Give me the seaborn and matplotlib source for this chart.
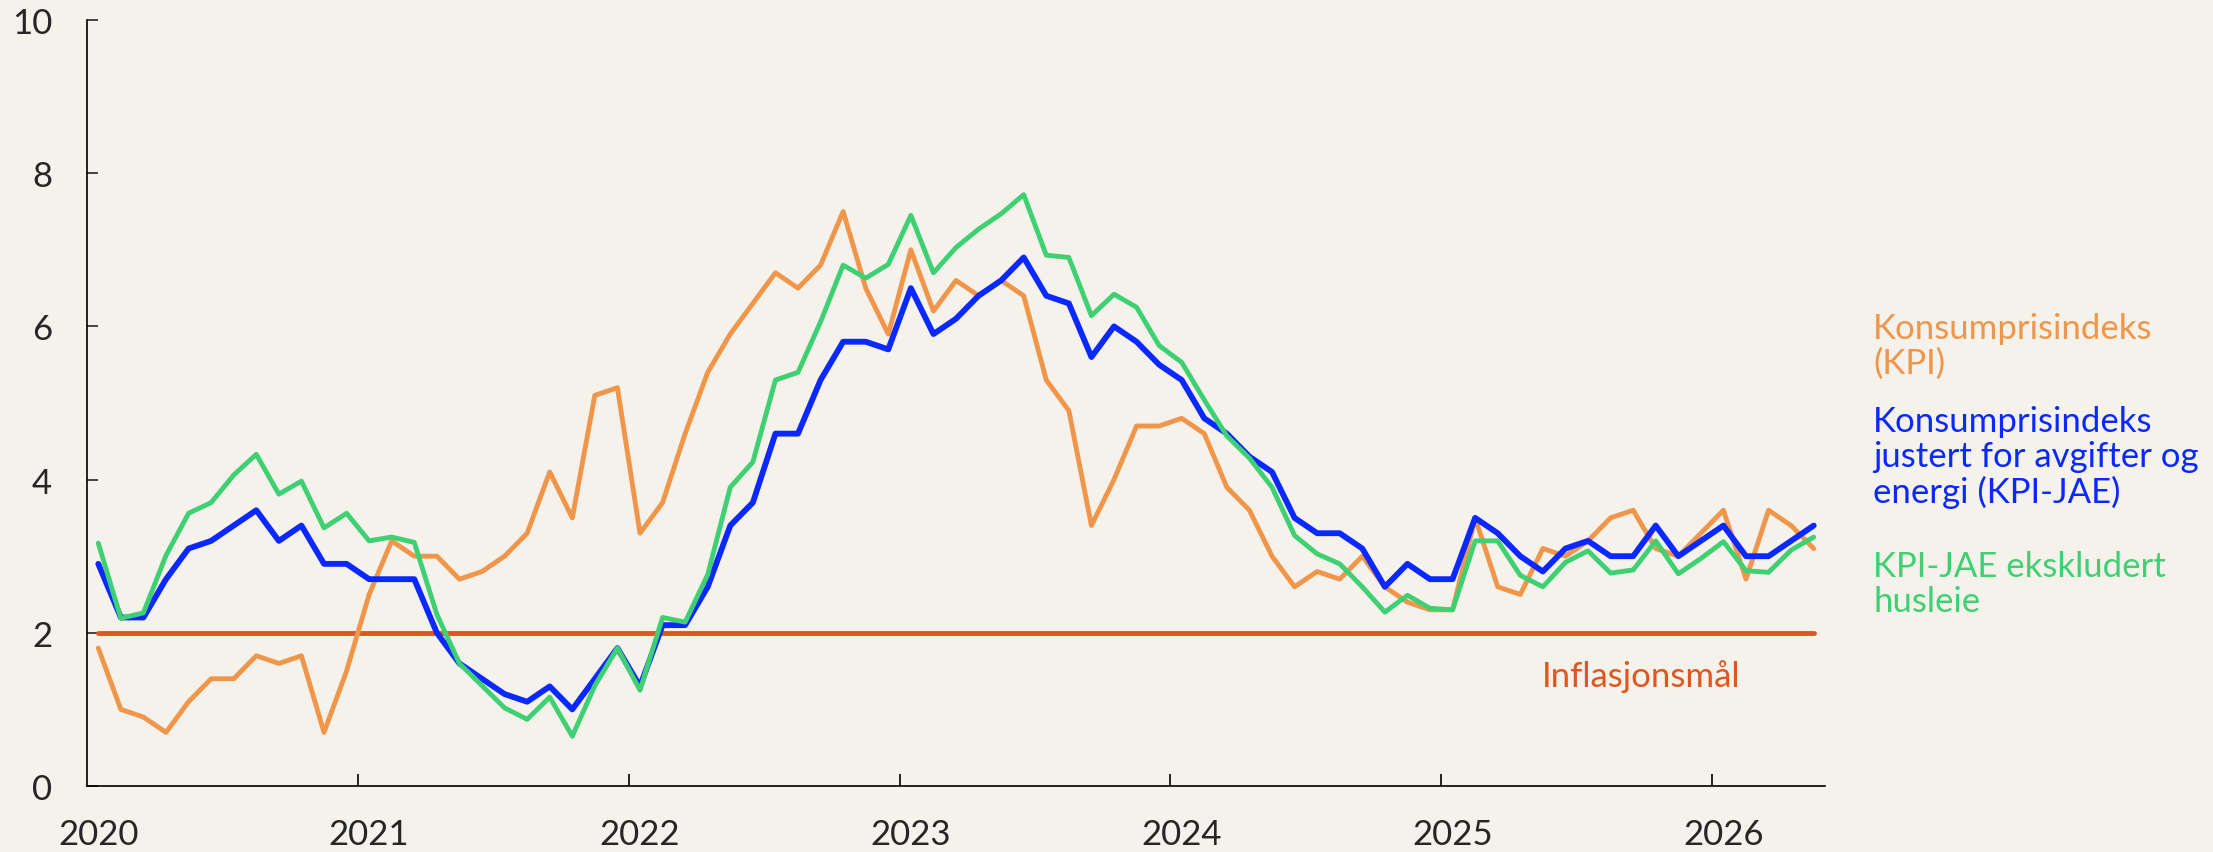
import numpy as np
import pandas as pd
import seaborn as sns
import matplotlib.pyplot as plt

# Monthly 12-month change (%), Jan 2020 - May 2026
years = ["2020", "2021", "2022", "2023", "2024", "2025", "2026"]

kpi = [
    1.8, 1.0, 0.9, 0.7, 1.1, 1.4, 1.4, 1.7, 1.6, 1.7, 0.7, 1.5,   # 2020
    2.5, 3.2, 3.0, 3.0, 2.7, 2.8, 3.0, 3.3, 4.1, 3.5, 5.1, 5.2,   # 2021
    3.3, 3.7, 4.6, 5.4, 5.9, 6.3, 6.7, 6.5, 6.8, 7.5, 6.5, 5.9,   # 2022
    7.0, 6.2, 6.6, 6.4, 6.6, 6.4, 5.3, 4.9, 3.4, 4.0, 4.7, 4.7,   # 2023
    4.8, 4.6, 3.9, 3.6, 3.0, 2.6, 2.8, 2.7, 3.0, 2.6, 2.4, 2.3,   # 2024
    2.3, 3.5, 2.6, 2.5, 3.1, 3.0, 3.2, 3.5, 3.6, 3.1, 3.0, 3.3,   # 2025
    3.6, 2.7, 3.6, 3.4, 3.1,                                      # 2026
]

kpi_jae = [
    2.9, 2.2, 2.2, 2.7, 3.1, 3.2, 3.4, 3.6, 3.2, 3.4, 2.9, 2.9,
    2.7, 2.7, 2.7, 2.0, 1.6, 1.4, 1.2, 1.1, 1.3, 1.0, 1.4, 1.8,
    1.3, 2.1, 2.1, 2.6, 3.4, 3.7, 4.6, 4.6, 5.3, 5.8, 5.8, 5.7,
    6.5, 5.9, 6.1, 6.4, 6.6, 6.9, 6.4, 6.3, 5.6, 6.0, 5.8, 5.5,
    5.3, 4.8, 4.6, 4.3, 4.1, 3.5, 3.3, 3.3, 3.1, 2.6, 2.9, 2.7,
    2.7, 3.5, 3.3, 3.0, 2.8, 3.1, 3.2, 3.0, 3.0, 3.4, 3.0, 3.2,
    3.4, 3.0, 3.0, 3.2, 3.4,
]

kpi_jae_ex_rent = [
    3.17, 2.19, 2.26, 3.01, 3.56, 3.70, 4.06, 4.33, 3.81, 3.98, 3.37, 3.56,
    3.20, 3.25, 3.18, 2.24, 1.60, 1.31, 1.02, 0.87, 1.16, 0.65, 1.31, 1.80,
    1.25, 2.20, 2.14, 2.76, 3.90, 4.23, 5.30, 5.40, 6.06, 6.80, 6.63, 6.81,
    7.45, 6.70, 7.03, 7.27, 7.47, 7.72, 6.93, 6.90, 6.14, 6.42, 6.25, 5.75,
    5.53, 5.04, 4.57, 4.28, 3.90, 3.27, 3.03, 2.90, 2.60, 2.27, 2.49, 2.32,
    2.30, 3.20, 3.20, 2.75, 2.60, 2.92, 3.07, 2.78, 2.82, 3.20, 2.77, 2.97,
    3.19, 2.81, 2.79, 3.08, 3.25,
]

inflation_target = 2.0

series_labels = [
    "Konsumprisindeks\n(KPI)",
    "Konsumprisindeks\njustert for avgifter og\nenergi (KPI-JAE)",
    "KPI-JAE ekskludert\nhusleie",
]
target_label = "Inflasjonsmål"

BG = "#F5F2EB"
ORANGE = "#F0964B"
BLUE = "#0A28FF"
GREEN = "#3FD073"
RED = "#DF561E"

W, H = 2213, 853
FS = 25


def main():
    n = len(kpi)
    df = pd.DataFrame({
        "month": np.arange(n),
        "kpi": kpi,
        "kpi_jae": kpi_jae,
        "kpi_jae_ex_rent": kpi_jae_ex_rent,
        "target": [inflation_target] * n,
    })

    sns.set_style("ticks", {"axes.facecolor": BG, "figure.facecolor": BG,
                            "axes.edgecolor": "black"})
    plt.rcParams["font.family"] = ["Lato", "DejaVu Sans"]

    fig = plt.figure(figsize=(W / 100, H / 100), dpi=100)
    ax = fig.add_axes([87 / W, 66 / H, 1738 / W, 766 / H])

    sns.lineplot(data=df, x="month", y="target", ax=ax, color=RED,
                 linewidth=3.5, solid_capstyle="round")
    sns.lineplot(data=df, x="month", y="kpi", ax=ax, color=ORANGE,
                 linewidth=3.5, solid_capstyle="round")
    sns.lineplot(data=df, x="month", y="kpi_jae", ax=ax, color=BLUE,
                 linewidth=4.2, solid_capstyle="round")
    sns.lineplot(data=df, x="month", y="kpi_jae_ex_rent", ax=ax, color=GREEN,
                 linewidth=3.5, solid_capstyle="round")

    ax.set_xlim(-0.5, n - 0.5)
    ax.set_ylim(0, 10)
    ax.set_xlabel("")
    ax.set_ylabel("")

    # year labels under the January points, tick marks on the year boundaries
    ax.set_xticks(np.arange(0, n, 12))
    ax.set_xticklabels(years)
    ax.set_xticks(np.arange(11.5, n, 12), minor=True)
    ax.tick_params(axis="x", which="major", length=0, pad=23, labelsize=FS)
    ax.tick_params(axis="x", which="minor", direction="in", length=9,
                   width=1.2, color="black")

    ax.set_yticks(np.arange(0, 11, 2))
    ax.tick_params(axis="y", direction="in", length=8, width=1.2,
                   pad=25, labelsize=FS)

    for side in ["top", "right"]:
        ax.spines[side].set_visible(False)
    for side in ["left", "bottom"]:
        ax.spines[side].set_linewidth(1.2)

    # labels to the right of the plot (y = baseline of the last line)
    label_pos = [(1873, 374), (1873, 503), (1873, 612)]
    for text, (x, y), col in zip(series_labels, label_pos, [ORANGE, BLUE, GREEN]):
        fig.text(x / W, 1 - y / H, text, color=col, fontsize=FS,
                 va="baseline", ha="left", linespacing=1.11)

    fig.text(1542 / W, 1 - 687 / H, target_label, color=RED, fontsize=FS,
             va="baseline", ha="left")

    fig.savefig("out.png", dpi=100, facecolor=BG)


if __name__ == "__main__":
    main()
